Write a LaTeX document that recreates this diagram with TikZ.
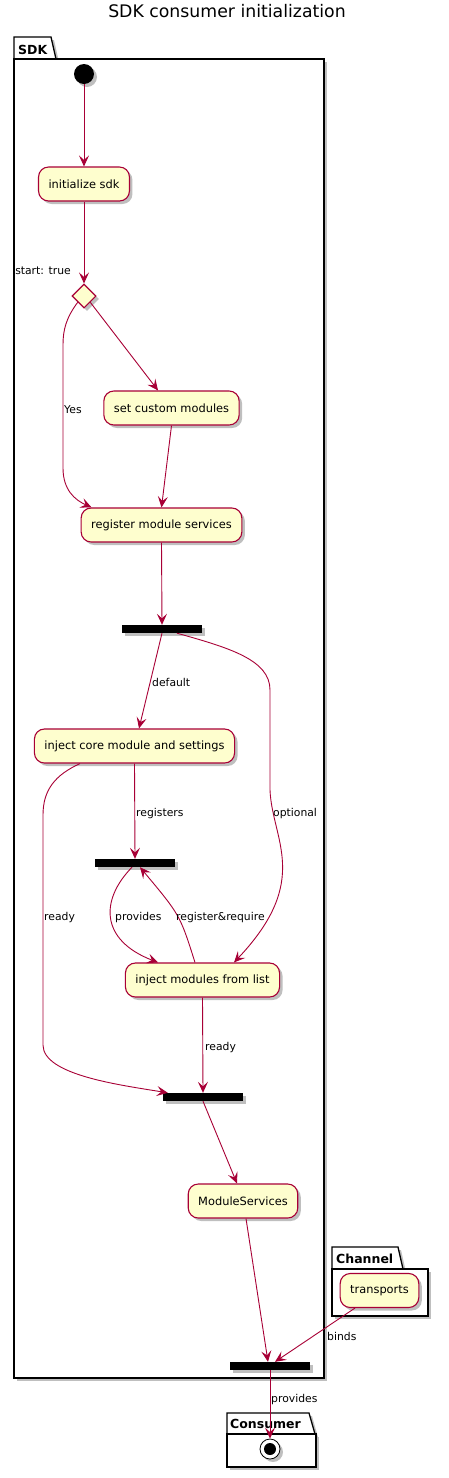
\documentclass[tikz,border=0pt]{standalone}
\usepackage{fontspec}
\setmainfont{DejaVu Sans}
\usetikzlibrary{shapes.geometric,shadows,arrows.meta}
\definecolor{umlred}{HTML}{A80036}
\definecolor{umlfill}{HTML}{FEFECE}
\tikzset{
  shd/.style={drop shadow={shadow xshift=3pt,shadow yshift=-3pt,fill=black,opacity=0.25}},
  act/.style={rounded corners=10pt, draw=umlred, fill=umlfill, line width=1.1pt,
    minimum height=34pt, inner xsep=10pt, inner ysep=0pt, font=\fontsize{11.4}{13}\selectfont, shd},
  decision/.style={diamond, aspect=1, draw=umlred, fill=umlfill, line width=1.1pt,
    minimum width=24pt, minimum height=24pt, inner sep=0pt, shd},
  bar/.style={fill=black, minimum width=80pt, minimum height=8pt, inner sep=0pt, shd},
  arr/.style={draw=umlred, line width=0.9pt, -{Stealth[length=11pt,width=10pt,inset=4.5pt]}},
  lbl/.style={font=\fontsize{10.8}{12}\selectfont, inner sep=0pt, anchor=base west},
  pkg/.style={draw=black, fill=white, line width=1.3pt, shd},
  pkglbl/.style={font=\bfseries\fontsize{12.5}{14}\selectfont, inner sep=0pt, anchor=base west},
}
\begin{document}
\begin{tikzpicture}[x=1pt,y=-1pt]
\useasboundingbox (0,0) rectangle (449,1478);
% title
\node[font=\fontsize{17.3}{20}\selectfont, inner sep=0pt, anchor=base] (title) at (227,17) {SDK consumer initialization};
% packages
\path[pkg] (14,59) -- (14,37) -- (51,37) -- (56,59) -- cycle;
\path[pkg] (14,59) rectangle (324,1378);
\node[pkglbl] (sdklbl) at (18,54) {SDK};
\path[pkg] (332,1269) -- (332,1247) -- (398,1247) -- (403,1269) -- cycle;
\path[pkg] (332,1269) rectangle (428,1316);
\node[pkglbl] (chlbl) at (336,1263) {Channel};
\path[pkg] (227,1434) -- (227,1413) -- (309,1413) -- (315,1434) -- cycle;
\path[pkg] (227,1434) rectangle (316,1467);
\node[pkglbl] (conslbl) at (230,1428) {Consumer};
% nodes
\node[circle, fill=black, minimum size=20pt, inner sep=0pt, shd] (start) at (84,74) {};
\node[act] (init) at (84,184) {initialize sdk};
\node[decision] (dia) at (84,296) {};
\node[act] (custom) at (171.5,408) {set custom modules};
\node[act] (reg) at (161.5,525) {register module services};
\node[bar] (bar1) at (162,629) {};
\node[act] (core) at (134.5,746) {inject core module and settings};
\node[bar] (bar2) at (135,863) {};
\node[act] (inj) at (202.5,980) {inject modules from list};
\node[bar] (bar3) at (203,1097) {};
\node[act] (ms) at (243,1201) {ModuleServices};
\node[bar] (bar4) at (270,1366) {};
\node[act] (trans) at (379.5,1290.5) {transports};
\node[circle, draw=black, fill=white, line width=0.8pt, minimum size=20pt, inner sep=0pt, shd,
  path picture={\fill[black] (path picture bounding box.center) circle (6pt);}] (endn) at (270,1449) {};
% waypoints
\coordinate (y1) at (63,345);
\coordinate (y2) at (63,468);
\coordinate (o1) at (270,690);
\coordinate (o2) at (270,790);
\coordinate (r1) at (43,815);
\coordinate (r2) at (43,1045);
% connectors
\draw[arr] (start) -- (init);
\draw[arr] (init) -- (dia);
\draw[arr] (dia.south east) -- (custom);
\draw[arr] (dia.south west) .. controls (66,318) and (63,330) .. (y1) -- (y2)
  .. controls (63,490) and (75,500) .. ([xshift=11pt]reg.north west);
\draw[arr] (custom.south) -- (reg.north);
\draw[arr] (reg.south) -- (bar1.north);
\draw[arr] (bar1.south) -- ([xshift=4.5pt]core.north);
\draw[arr] ([xshift=15pt]bar1.south) .. controls (230,648) and (270,660) .. (o1) -- (o2)
  .. controls (272,840) and (312,880) .. ([xshift=31.5pt]inj.north);
\draw[arr] (core.south) -- (bar2.north);
\draw[arr] ([xshift=-3pt]bar2.south) .. controls (100,900) and (100,940) .. ([xshift=-44.5pt]inj.north);
\draw[arr] ([xshift=-7.5pt]inj.north) .. controls (180,915) .. ([xshift=5pt]bar2.south);
\draw[arr] ([xshift=-54.5pt]core.south) .. controls (55,775) and (43,790) .. (r1) -- (r2)
  .. controls (43,1075) and (120,1085) .. ([xshift=5pt]bar3.north west);
\draw[arr] (inj.south) -- (bar3.north);
\draw[arr] (bar3.south) -- ([xshift=-6pt]ms.north);
\draw[arr] ([xshift=3pt]ms.south) -- ([xshift=-2pt]bar4.north);
\draw[arr] ([xshift=-24.5pt]trans.south) -- ([xshift=5pt]bar4.north);
\draw[arr] (bar4.south) -- (endn);
% labels
\node[lbl, anchor=base east] (lstart) at (71,274) {start: true};
\node[lbl] (lyes) at (64,413) {Yes};
\node[lbl] (ldefault) at (152,686) {default};
\node[lbl] (lregisters) at (136,816) {registers};
\node[lbl] (loptional) at (273,816) {optional};
\node[lbl] (lready1) at (44,920) {ready};
\node[lbl] (lprovides1) at (115,920) {provides};
\node[lbl] (lregreq) at (176,920) {register\&require};
\node[lbl] (lready2) at (205,1050) {ready};
\node[lbl] (lbinds) at (327,1340) {binds};
\node[lbl] (lprovides2) at (271,1402) {provides};
\end{tikzpicture}
\end{document}
